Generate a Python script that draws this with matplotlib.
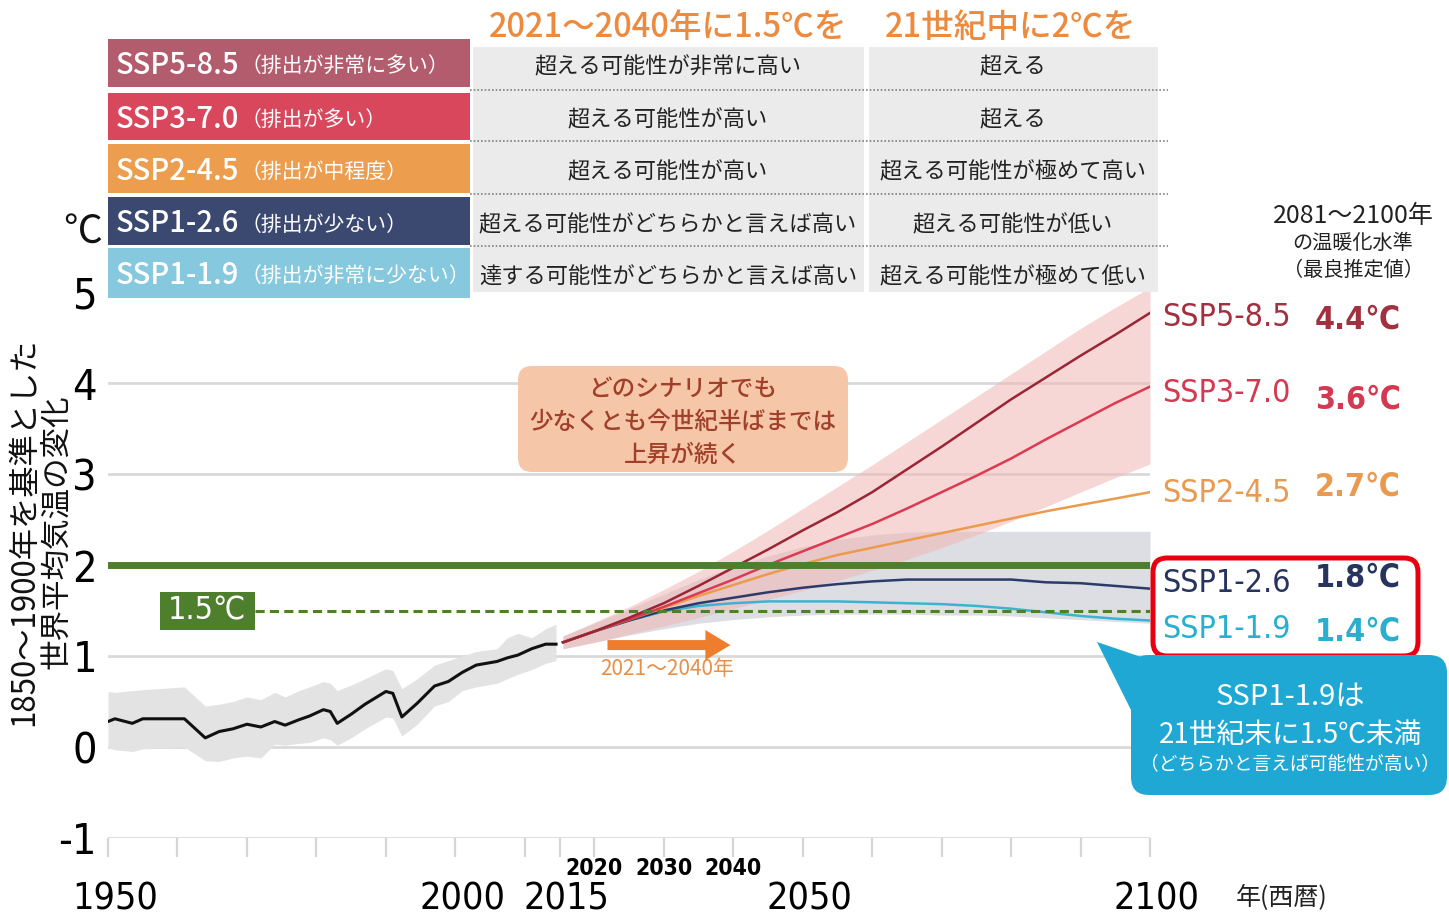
import matplotlib.pyplot as plt
from matplotlib.patches import Rectangle, FancyBboxPatch, Polygon

plt.rcParams['font.family'] = ['Noto Sans CJK JP', 'DejaVu Sans']
NARROW = ['DejaVu Sans', 'Noto Sans CJK JP']
STRETCH = 'condensed'

W, H = 1449, 919

# 観測値 (1950-2015)
hist_years = [1950, 1951, 1953.5, 1955, 1961, 1964, 1966, 1968, 1970, 1972, 1974, 1975.5, 1977.5,
              1979, 1981, 1982, 1983, 1985, 1987, 1990, 1991, 1992.3, 1994.5, 1997, 1999, 2001,
              2003, 2006, 2007.5, 2009, 2011, 2013, 2014.5]
hist_mean = [0.28, 0.31, 0.26, 0.31, 0.31, 0.10, 0.17, 0.20, 0.25, 0.22, 0.28, 0.24, 0.30,
             0.34, 0.41, 0.39, 0.26, 0.36, 0.47, 0.61, 0.59, 0.33, 0.48, 0.67, 0.72, 0.82,
             0.90, 0.94, 0.98, 1.01, 1.08, 1.13, 1.13]
hist_low = [-0.01, -0.03, -0.05, -0.02, 0.00, -0.15, -0.16, -0.12, -0.10, -0.12, 0.03, 0.02, 0.04,
            0.05, 0.10, 0.08, 0.02, 0.10, 0.20, 0.33, 0.32, 0.12, 0.25, 0.45, 0.50, 0.62,
            0.66, 0.70, 0.75, 0.80, 0.85, 0.92, 0.95]
hist_high = [0.61, 0.60, 0.62, 0.63, 0.66, 0.45, 0.47, 0.50, 0.55, 0.52, 0.60, 0.55, 0.62,
             0.66, 0.72, 0.70, 0.62, 0.68, 0.75, 0.86, 0.84, 0.64, 0.75, 0.90, 0.95, 1.00,
             1.05, 1.08, 1.20, 1.25, 1.20, 1.30, 1.35]

# シナリオ別予測 (2015-2100)
proj_years = [2015.5, 2020, 2025, 2030, 2035, 2040, 2045, 2050, 2055, 2060, 2065, 2070,
              2075, 2080, 2085, 2090, 2095, 2100]
ssp585 = [1.15, 1.27, 1.42, 1.58, 1.77, 1.97, 2.17, 2.38, 2.58, 2.80, 3.05, 3.30,
          3.56, 3.82, 4.06, 4.30, 4.53, 4.77]
ssp370 = [1.15, 1.27, 1.40, 1.54, 1.69, 1.84, 2.00, 2.15, 2.30, 2.45, 2.62, 2.80,
          2.98, 3.17, 3.38, 3.58, 3.78, 3.96]
ssp245 = [1.15, 1.27, 1.40, 1.53, 1.66, 1.78, 1.90, 2.01, 2.11, 2.19, 2.27, 2.35,
          2.43, 2.51, 2.59, 2.66, 2.73, 2.80]
ssp126 = [1.15, 1.27, 1.39, 1.50, 1.58, 1.64, 1.70, 1.75, 1.79, 1.82, 1.84, 1.84,
          1.84, 1.84, 1.81, 1.80, 1.77, 1.74]
ssp119 = [1.15, 1.27, 1.39, 1.49, 1.55, 1.58, 1.60, 1.60, 1.60, 1.59, 1.58, 1.57,
          1.55, 1.52, 1.48, 1.44, 1.41, 1.39]
band370_low = [1.08, 1.15, 1.24, 1.33, 1.42, 1.52, 1.62, 1.72, 1.83, 1.94, 2.06, 2.19,
               2.33, 2.48, 2.64, 2.80, 2.96, 3.11]
band370_high = [1.22, 1.37, 1.54, 1.73, 1.93, 2.15, 2.38, 2.62, 2.86, 3.10, 3.35, 3.60,
                3.85, 4.10, 4.35, 4.60, 4.83, 5.05]
band126_low = [1.08, 1.15, 1.23, 1.30, 1.36, 1.40, 1.43, 1.45, 1.46, 1.46, 1.46, 1.45,
               1.45, 1.44, 1.42, 1.40, 1.38, 1.36]
band126_high = [1.22, 1.36, 1.52, 1.68, 1.84, 1.98, 2.10, 2.20, 2.28, 2.33, 2.36, 2.37,
                2.37, 2.37, 2.37, 2.37, 2.37, 2.37]

scenarios = ['SSP5-8.5', 'SSP3-7.0', 'SSP2-4.5', 'SSP1-2.6', 'SSP1-1.9']
descs = ['（排出が非常に多い）', '（排出が多い）', '（排出が中程度）', '（排出が少ない）', '（排出が非常に少ない）']
col1 = ['超える可能性が非常に高い', '超える可能性が高い', '超える可能性が高い',
        '超える可能性がどちらかと言えば高い', '達する可能性がどちらかと言えば高い']
col2 = ['超える', '超える', '超える可能性が極めて高い', '超える可能性が低い', '超える可能性が極めて低い']
best_est = ['4.4℃', '3.6℃', '2.7℃', '1.8℃', '1.4℃']
box_colors = ['#B25C6E', '#D9475D', '#EC9E4E', '#3B4870', '#86C8DD']
line_colors = ['#9A2535', '#DC3A50', '#EB9B4B', '#2C3B6A', '#3BB4D3']
label_colors = ['#A3303F', '#D33A52', '#E89B50', '#26345E', '#2AAFCF']

tick_years = [1950, 1960, 1970, 1980, 1990, 2000, 2010, 2015, 2020, 2030, 2040,
              2050, 2060, 2070, 2080, 2090, 2100]
big_labels = [1950, 2000, 2015, 2050, 2100]
small_labels = [2020, 2030, 2040]

fig = plt.figure(figsize=(W / 100, H / 100), dpi=100)
ax = fig.add_axes([108 / W, (H - 838) / H, 1042 / W, 546 / H], zorder=1)
ax.set_xlim(1950, 2100)
ax.set_ylim(-1, 5)
ax.set_facecolor('none')
for s in ax.spines.values():
    s.set_visible(False)

for v in [-1, 0, 1, 3, 4]:
    ax.axhline(v, color='#D9D9D9', lw=2, zorder=0)

ax.fill_between(hist_years, hist_low, hist_high, color='#E3E3E3', lw=0, zorder=1)
ax.plot(hist_years, hist_mean, color='#111111', lw=2.2, zorder=5)

ax.fill_between(proj_years, band126_low, band126_high, color='#DCDEE3', lw=0, zorder=2)
ax.fill_between(proj_years, band370_low, band370_high, color='#F2B5B5', alpha=0.55, lw=0, zorder=3)
for vals, c in zip([ssp119, ssp126, ssp245, ssp370, ssp585], line_colors[::-1]):
    ax.plot(proj_years, vals, color=c, lw=1.8, zorder=4)

ax.axhline(2, color='#4E7F2D', lw=5, zorder=6)
ax.hlines(1.5, 1971.2, 2100, color='#4E7F2D', lw=2.2, linestyles=(0, (3, 1.7)), zorder=6)

# 2021~2040年の矢印
ax.annotate('', xy=(2040, 1.12), xytext=(2021.5, 1.12),
            arrowprops=dict(arrowstyle='simple,head_length=1.0,head_width=1.2,tail_width=0.4',
                            color='#EE7D2E', lw=0, mutation_scale=18), zorder=7)
ax.text(2030.5, 0.86, '2021～2040年', color='#E8904A', fontsize=15, ha='center', va='center')

ax.set_xticks(tick_years)
ax.set_xticklabels([])
ax.tick_params(axis='x', length=14, width=1.6, color='#D5D5D5', direction='out')
ax.set_yticks(range(-1, 6))
ax.set_yticklabels(['-1', '0', '1', '2', '3', '4', '5'], family=NARROW, fontstretch=STRETCH,
                   fontsize=31)
ax.tick_params(axis='y', length=0, pad=8)

xt = ax.get_xaxis_transform()
for yr in big_labels:
    ax.text(yr + 1, -0.112, str(yr), transform=xt, ha='center', va='center', family=NARROW,
            fontstretch=STRETCH, fontsize=27)
for yr in small_labels:
    ax.text(yr, -0.055, str(yr), transform=xt, ha='center', va='center', family=NARROW,
            fontstretch=STRETCH, fontsize=16.5, fontweight='bold')

# 上に重ねる注記・表
ov = fig.add_axes([0, 0, 1, 1], zorder=5)
ov.set_xlim(0, W)
ov.set_ylim(H, 0)
ov.axis('off')
ov.patch.set_alpha(0)

fig.canvas.draw()
r = fig.canvas.get_renderer()

row_tops = [39, 93, 144, 197, 248]
row_hs = [48, 47, 49, 48, 50]
row_centers = [64, 117, 169, 222, 274]
ov.add_patch(Rectangle((473, 47), 391, 245, color='#EBEBEB', lw=0))
ov.add_patch(Rectangle((869, 47), 289, 245, color='#EBEBEB', lw=0))
for yy in [90, 141, 194, 246]:
    ov.plot([470, 1168], [yy, yy], color='#808080', lw=1.2, linestyle=(0, (1, 1.2)))

for i in range(5):
    ov.add_patch(Rectangle((108, row_tops[i]), 362, row_hs[i], color=box_colors[i], lw=0))
    t = ov.text(116, row_centers[i] + 2, scenarios[i], color='white', fontsize=21,
                fontweight='medium', ha='left', va='center')
    bb = t.get_window_extent(renderer=r)
    x_end = ov.transData.inverted().transform((bb.x1, 0))[0]
    ov.text(x_end + 1, row_centers[i] + 3, descs[i], color='white', fontsize=15,
            ha='left', va='center')
    ov.text(668, row_centers[i] + 3, col1[i], color='#222222', fontsize=16, ha='center', va='center')
    ov.text(1013, row_centers[i] + 3, col2[i], color='#222222', fontsize=16, ha='center', va='center')

ov.text(668, 27, '2021～2040年に1.5℃を', color='#EC8A3E', fontsize=23.5, fontweight='medium',
        ha='center', va='center')
ov.text(1010, 27, '21世紀中に2℃を', color='#EC8A3E', fontsize=23.5, fontweight='medium',
        ha='center', va='center')

ov.text(1353, 216, '2081～2100年', color='#222222', fontsize=18, ha='center', va='center')
ov.text(1353, 243, 'の温暖化水準', color='#222222', fontsize=14.5, ha='center', va='center')
ov.text(1353, 270, '（最良推定値）', color='#222222', fontsize=14.5, ha='center', va='center')

label_y = [318, 393, 494, 584, 630]
value_y = [320, 400, 487, 578, 632]
for i in range(5):
    ov.text(1162, label_y[i], scenarios[i], color=label_colors[i], family=NARROW,
            fontstretch=STRETCH, fontsize=23, ha='left', va='center')
    ov.text(1358, value_y[i], best_est[i], color=label_colors[i], family=NARROW,
            fontstretch=STRETCH, fontsize=23, fontweight='bold', ha='center', va='center')

ov.add_patch(FancyBboxPatch((1153, 558), 265, 98, boxstyle='round,pad=0,rounding_size=14',
                            fc='none', ec='#E8000F', lw=3.6))

# 吹き出し
ov.add_patch(Polygon([(1097, 642), (1150, 660), (1132, 712)], closed=True, color='#1FA8D4', lw=0))
ov.add_patch(FancyBboxPatch((1131, 655), 316, 140, boxstyle='round,pad=0,rounding_size=18',
                            fc='#1FA8D4', ec='none'))
ov.text(1290, 697, 'SSP1-1.9は', color='white', fontsize=21, ha='center', va='center')
ov.text(1291, 735, '21世紀末に1.5℃未満', color='white', fontsize=20, ha='center', va='center')
ov.text(1290, 765, '（どちらかと言えば可能性が高い）', color='white', fontsize=13.5,
        ha='center', va='center')

ov.add_patch(FancyBboxPatch((518, 366), 330, 106, boxstyle='round,pad=0,rounding_size=14',
                            fc='#F6C6A8', ec='none'))
for yy, s in zip([389, 422, 455], ['どのシナリオでも', '少なくとも今世紀半ばまでは', '上昇が続く']):
    ov.text(683, yy, s, color='#A0402A', fontsize=17, fontweight='medium', ha='center', va='center')

ov.add_patch(Rectangle((160, 592), 95, 38, color='#4E7F2D', lw=0))
ov.text(207, 611, '1.5℃', color='white', family=NARROW, fontstretch=STRETCH, fontsize=23,
        ha='center', va='center')

ov.text(83, 232, '℃', color='#111111', fontsize=28, ha='center', va='center')
ov.text(24, 532, '1850～1900年を基準とした', color='#111111', fontsize=22.5, rotation=90,
        ha='center', va='center')
ov.text(57, 532, '世界平均気温の変化', color='#111111', fontsize=22, rotation=90,
        ha='center', va='center')
ov.text(1282, 898, '年(西暦)', color='#222222', fontsize=18, ha='center', va='center')

fig.savefig('out.png', dpi=100, facecolor='white')
